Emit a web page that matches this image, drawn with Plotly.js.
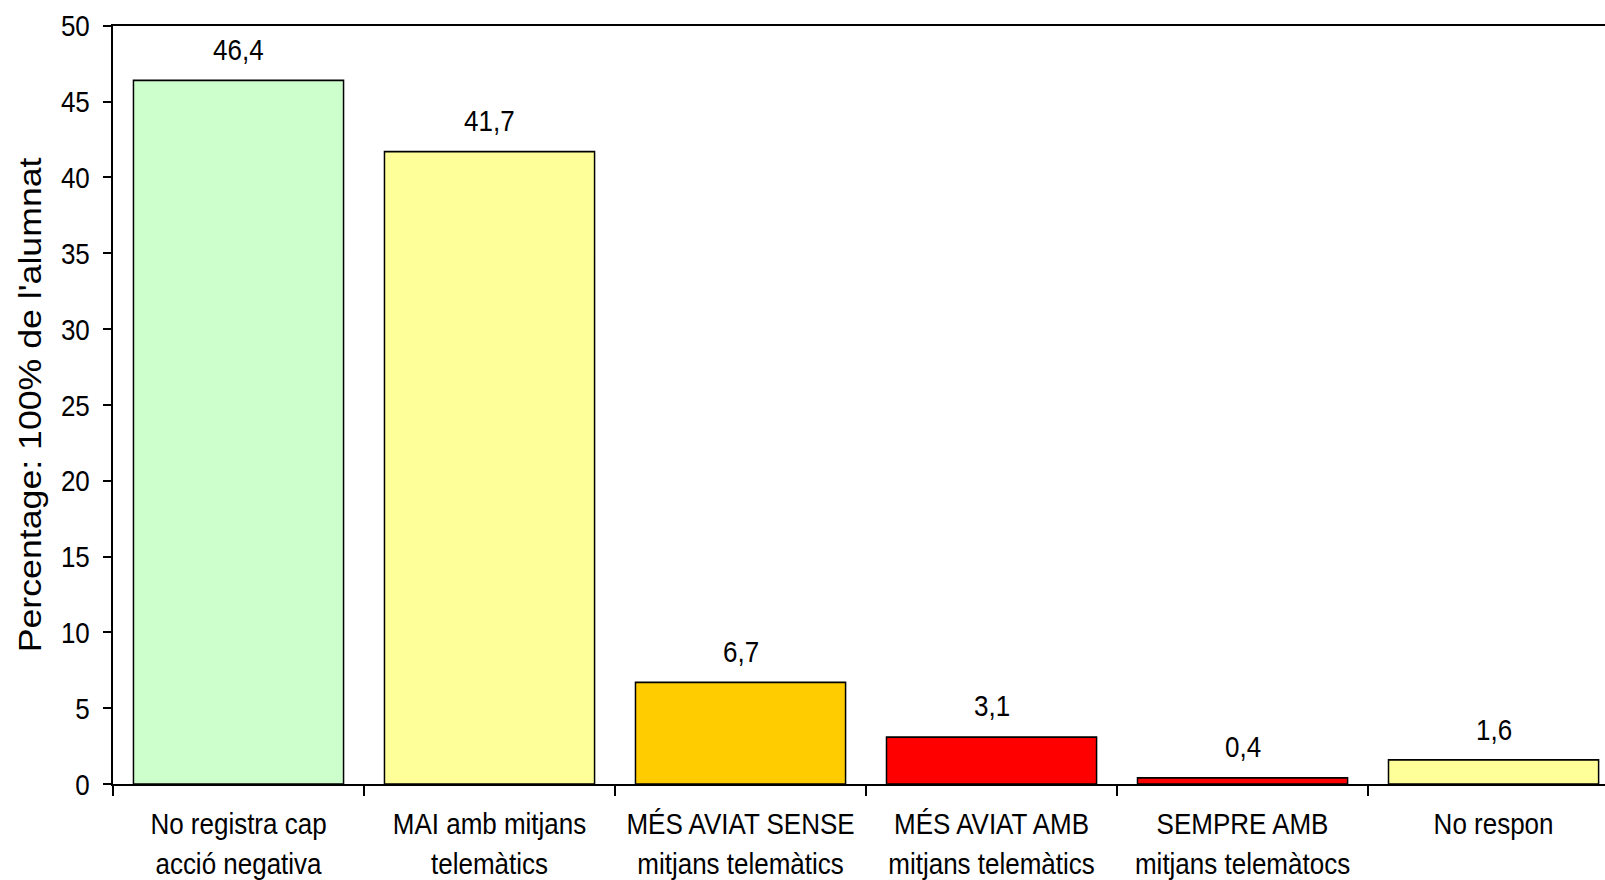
<!DOCTYPE html>
<html>
<head>
<meta charset="utf-8">
<script src="https://cdn.plot.ly/plotly-3.0.1.min.js"></script>
<style>
html, body { margin: 0; padding: 0; background: #ffffff; overflow: hidden; width: 1605px; height: 880px; }
#chart { width: 1605px; height: 752px; transform-origin: 0 0; transform: scaleY(1.1702); }
</style>
</head>
<body>
<div id="chart"></div>
<script>
const categories = [
  "No registra cap<br>acció negativa",
  "MAI amb mitjans<br>telemàtics",
  "MÉS AVIAT SENSE<br>mitjans telemàtics",
  "MÉS AVIAT AMB<br>mitjans telemàtics",
  "SEMPRE AMB<br>mitjans telemàtocs",
  "No respon"
];
const values = [46.4, 41.7, 6.7, 3.1, 0.4, 1.6];
const valueLabels = ["46,4", "41,7", "6,7", "3,1", "0,4", "1,6"];
const barColors = ["#CCFFCC", "#FFFF99", "#FFCC00", "#FF0000", "#FF0000", "#FFFF99"];
const yTickValues = [0, 5, 10, 15, 20, 25, 30, 35, 40, 45, 50];
const yAxisTitle = "Percentage: 100% de l'alumnat";

const FONT = "Liberation Sans, Arial, Helvetica, sans-serif";

const trace = {
  type: "bar",
  x: categories,
  y: values,
  marker: { color: barColors, line: { color: "#000000", width: 1.5 } },
  hoverinfo: "none"
};

const annotations = categories.map((c, i) => ({
  x: c,
  y: values[i],
  xref: "x",
  yref: "y",
  text: valueLabels[i],
  showarrow: false,
  yanchor: "middle",
  xanchor: "center",
  yshift: 26.5,
  font: { family: FONT, size: 26, color: "#000000" }
}));

const layout = {
  width: 1605,
  height: 752,
  margin: { l: 113, r: 0, t: 22, b: 82, pad: 0 },
  paper_bgcolor: "#ffffff",
  plot_bgcolor: "#ffffff",
  showlegend: false,
  bargap: 0.163,
  font: { family: FONT, color: "#000000" },
  xaxis: {
    type: "category",
    range: [-0.5, 5.444],
    showline: true,
    linecolor: "#000000",
    linewidth: 1.7,
    mirror: true,
    ticks: "outside",
    tickson: "boundaries",
    ticklen: 8.5,
    tickwidth: 2,
    tickcolor: "#000000",
    showgrid: false,
    zeroline: false,
    tickfont: { family: FONT, size: 26, color: "#000000" },
    ticklabelstandoff: 10,
    automargin: false
  },
  yaxis: {
    range: [0, 50],
    tickvals: yTickValues,
    ticktext: yTickValues.map(String),
    showline: true,
    linecolor: "#000000",
    linewidth: 2,
    ticks: "outside",
    ticklen: 8,
    tickwidth: 1.7,
    tickcolor: "#000000",
    showgrid: false,
    zeroline: false,
    tickfont: { family: FONT, size: 26, color: "#000000" },
    ticklabelstandoff: 8,
    automargin: false,
    title: {
      text: yAxisTitle,
      font: { family: FONT, size: 30.5, color: "#000000" },
      standoff: 10
    }
  },
  annotations: annotations
};

Plotly.newPlot("chart", [trace], layout, { displayModeBar: false, staticPlot: true });
</script>
</body>
</html>
